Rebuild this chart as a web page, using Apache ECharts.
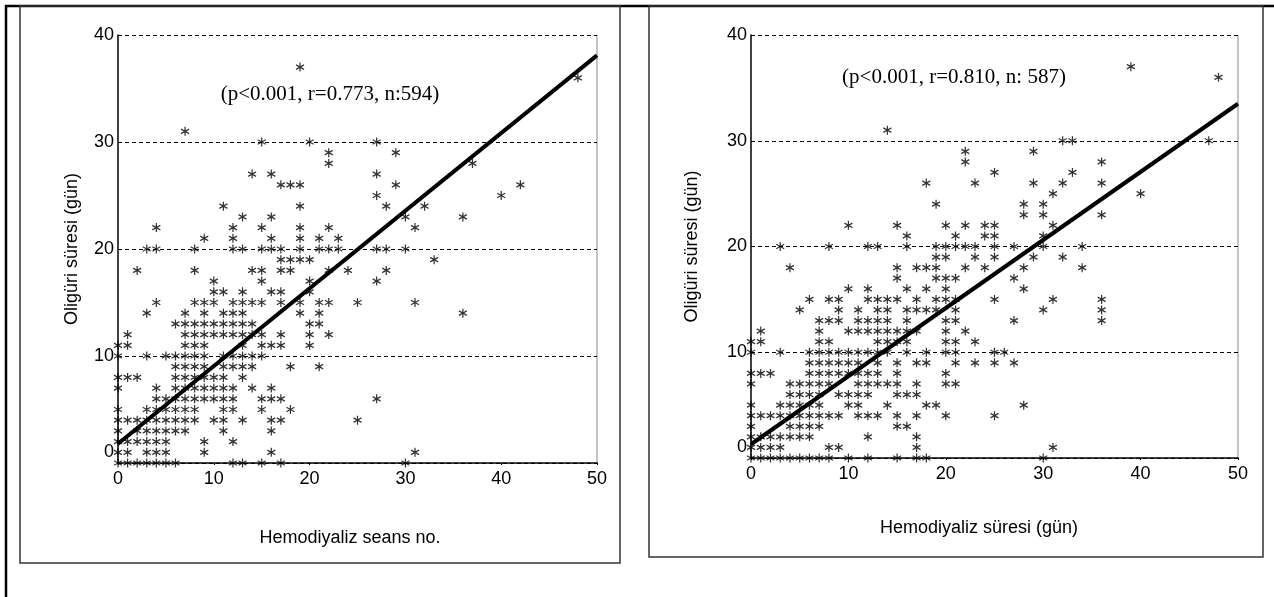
<!DOCTYPE html>
<html>
<head>
<meta charset="utf-8">
<script src="https://cdn.jsdelivr.net/npm/echarts@6/dist/echarts.min.js"></script>
<style>
html,body{margin:0;padding:0;background:#fff;}
#chart{width:1274px;height:597px;}
</style>
</head>
<body>
<div id="chart"></div>
<script>
// ---- Left panel: Hemodiyaliz seans no. vs Oligüri süresi (gün) ----
// rows: y value -> list of x values of visible markers
const leftRowY = [0,1,2,3,4,5,6,7,8,9,10,11,12,13,14,15,16,17,18,19,20,21,22,23,24,25,26,27,28,29,30,31,36,37];
const leftRowX = [
  [0,1,2,3,4,5,6,12,13,15,17,30],
  [0,1,3,4,5,9,16,31],
  [0,1,2,3,4,5,9,12],
  [0,2,3,4,5,6,7,11,16],
  [0,1,2,3,4,5,6,7,8,10,11,13,16,17,25],
  [0,3,4,5,6,7,8,11,12,15,18],
  [4,5,6,7,8,9,10,11,12,15,16,17,27],
  [0,4,6,7,8,9,10,11,12,14,16],
  [0,1,2,6,7,8,9,10,11,13],
  [6,7,8,9,11,12,13,14,18,21],
  [0,3,5,6,7,8,9,11,12,13,14,15],
  [0,1,7,8,9,13,15,16,17,20],
  [1,7,8,9,10,11,12,13,14,15,17,20,22],
  [6,7,8,9,10,11,12,13,14,20,21],
  [3,7,9,11,12,13,19,21,36],
  [4,8,9,10,12,13,14,15,17,19,21,22,25,31],
  [10,11,13,16,17,20],
  [10,15,20,27],
  [2,8,14,15,17,18,22,24,28],
  [17,18,19,20,33],
  [3,4,8,12,13,15,16,17,19,21,22,23,27,28,30],
  [9,12,16,19,21,23],
  [4,12,15,19,22,31],
  [13,16,30,36],
  [11,19,28,32],
  [27,40],
  [17,18,19,29,42],
  [14,16,27],
  [22,37],
  [22,29],
  [15,20,27],
  [7],
  [48],
  [19]
];
const leftFitX = [0, 50];
const leftFitY = [1.8, 38.1];
const leftNote = '(p<0.001, r=0.773, n:594)';
const leftXName = 'Hemodiyaliz seans no.';

// ---- Right panel: Hemodiyaliz süresi (gün) vs Oligüri süresi (gün) ----
const rightRowY = [0,1,2,3,4,5,6,7,8,9,10,11,12,13,14,15,16,17,18,19,20,21,22,23,24,25,26,27,28,29,30,31,36,37];
const rightRowX = [
  [0,1,2,3,4,5,6,7,8,10,12,15,17,18,30],
  [0,1,2,3,8,9,17,31],
  [0,1,2,3,4,5,6,12,17],
  [0,4,5,6,7,15,16],
  [0,1,2,3,4,5,6,7,8,9,11,12,13,15,17,20,25],
  [0,3,4,5,6,7,10,11,14,18,19,28],
  [4,5,6,7,9,10,11,12,15,16,17],
  [0,4,5,6,7,8,11,12,13,14,15,17,20,21],
  [0,1,2,6,7,8,9,10,11,12,13,15,20],
  [6,7,8,9,10,11,13,15,17,18,21,23,25,27],
  [0,3,6,7,8,9,10,11,12,13,14,16,18,20,21,25,26],
  [0,1,7,8,13,14,15,16,20,21,23],
  [1,7,10,11,12,13,14,15,16,17,20,22],
  [7,8,9,11,12,13,14,16,20,21,27,36],
  [5,9,11,13,14,16,17,18,19,21,30,36],
  [6,8,9,12,13,14,15,17,19,20,21,25,31,36],
  [10,12,16,18,20,28],
  [15,19,20,21,27],
  [4,15,17,18,19,22,24,28,34],
  [19,20,23,25,29,32],
  [3,8,12,13,16,19,20,21,22,23,25,27,30,34],
  [16,21,24,25,30],
  [10,15,20,22,24,25,31],
  [28,30,36],
  [19,28,30],
  [31,40],
  [18,23,29,32,36],
  [25,33],
  [22,36],
  [22,29],
  [32,33,47],
  [14],
  [48],
  [39]
];
const rightFitX = [0, 50];
const rightFitY = [1.3, 33.5];
const rightNote = '(p<0.001, r=0.810, n: 587)';
const rightXName = 'Hemodiyaliz süresi (gün)';

const yName = 'Oligüri süresi (gün)';
const xTicks = [0, 10, 20, 30, 40, 50];
const yTicks = [0, 10, 20, 30, 40];

function pairs(rowY, rowX) {
  const out = [];
  rowY.forEach((y, i) => rowX[i].forEach(x => out.push([x, y])));
  return out;
}
function fit(xs, ys) { return xs.map((x, i) => [x, ys[i]]); }

const SANS = '"Liberation Sans", Arial, sans-serif';
const SERIF = '"Liberation Serif", "Times New Roman", serif';
const star = 'path://M5,0L5,10M0.67,2.5L9.33,7.5M0.67,7.5L9.33,2.5';

function xAxisDef(gi) {
  return {
    type: 'value', gridIndex: gi, min: xTicks[0], max: xTicks[xTicks.length - 1], interval: 10,
    axisLine: { show: true, lineStyle: { color: '#000', width: 1.5 } },
    axisTick: { show: true, length: 2, lineStyle: { color: '#000' } },
    splitLine: { show: false },
    axisLabel: { color: '#000', fontFamily: SANS, fontSize: 18, margin: 7 }
  };
}
function yAxisDef(gi, gap) {
  return {
    type: 'value', gridIndex: gi, min: yTicks[0], max: yTicks[yTicks.length - 1], interval: 10,
    name: yName, nameLocation: 'middle', nameRotate: 90, nameGap: gap,
    nameTextStyle: { color: '#000', fontFamily: SANS, fontSize: 18 },
    axisLine: { show: true, lineStyle: { color: '#000', width: 1.5 } },
    axisTick: { show: false },
    splitLine: { show: true, lineStyle: { color: '#000', width: 1, type: [4, 3] } },
    axisLabel: {
      color: '#000', fontFamily: SANS, fontSize: 18, margin: 4,
      formatter: v => v === 0 ? '{z|0}' : String(v),
      rich: { z: { fontFamily: SANS, fontSize: 18, color: '#000', padding: [0, 0, 22, 0] } }
    }
  };
}

const chart = echarts.init(document.getElementById('chart'), null, { renderer: 'canvas' });
const grids = [
  { left: 118, top: 35, width: 479, height: 428 },
  { left: 751, top: 35, width: 487, height: 423 }
];
const markerStyle = { color: 'rgba(0,0,0,0)', borderColor: '#000', borderWidth: 1.3 };
chart.setOption({
  animation: false,
  backgroundColor: '#fff',
  grid: grids,
  xAxis: [xAxisDef(0), xAxisDef(1)],
  yAxis: [yAxisDef(0, 37), yAxisDef(1, 50)],
  series: [
    { type: 'scatter', xAxisIndex: 0, yAxisIndex: 0, data: pairs(leftRowY, leftRowX),
      symbol: star, symbolSize: [8, 9], itemStyle: markerStyle },
    { type: 'line', xAxisIndex: 0, yAxisIndex: 0, data: fit(leftFitX, leftFitY), symbol: 'none',
      lineStyle: { color: '#000', width: 4 }, z: 3 },
    { type: 'scatter', xAxisIndex: 1, yAxisIndex: 1, data: pairs(rightRowY, rightRowX),
      symbol: star, symbolSize: [8, 9], itemStyle: markerStyle },
    { type: 'line', xAxisIndex: 1, yAxisIndex: 1, data: fit(rightFitX, rightFitY), symbol: 'none',
      lineStyle: { color: '#000', width: 4 }, z: 3 }
  ],
  graphic: [
    // outer frame (top + left)
    { type: 'line', shape: { x1: 5, y1: 6, x2: 1274, y2: 6 }, style: { stroke: '#000', lineWidth: 2.5 } },
    { type: 'line', shape: { x1: 6, y1: 5, x2: 6, y2: 597 }, style: { stroke: '#000', lineWidth: 2.5 } },
    // panel frames
    { type: 'rect', shape: { x: 20, y: 6, width: 600, height: 557 }, style: { fill: 'none', stroke: '#333', lineWidth: 1.5 } },
    { type: 'rect', shape: { x: 649, y: 6, width: 614, height: 551 }, style: { fill: 'none', stroke: '#333', lineWidth: 1.5 } },
    // plot right edges
    { type: 'line', shape: { x1: 597, y1: 35, x2: 597, y2: 463 }, style: { stroke: '#888', lineWidth: 1 } },
    { type: 'line', shape: { x1: 1238, y1: 35, x2: 1238, y2: 458 }, style: { stroke: '#888', lineWidth: 1 } },
    // annotations
    { type: 'text', x: 330, y: 94, style: { text: leftNote, font: '21px ' + SERIF, fill: '#000', textAlign: 'center', textVerticalAlign: 'middle' } },
    { type: 'text', x: 954, y: 77, style: { text: rightNote, font: '21px ' + SERIF, fill: '#000', textAlign: 'center', textVerticalAlign: 'middle' } },
    // x axis titles
    { type: 'text', x: 350, y: 538, style: { text: leftXName, font: '18px ' + SANS, fill: '#000', textAlign: 'center', textVerticalAlign: 'middle' } },
    { type: 'text', x: 979, y: 528, style: { text: rightXName, font: '18px ' + SANS, fill: '#000', textAlign: 'center', textVerticalAlign: 'middle' } }
  ]
});
</script>
</body>
</html>
